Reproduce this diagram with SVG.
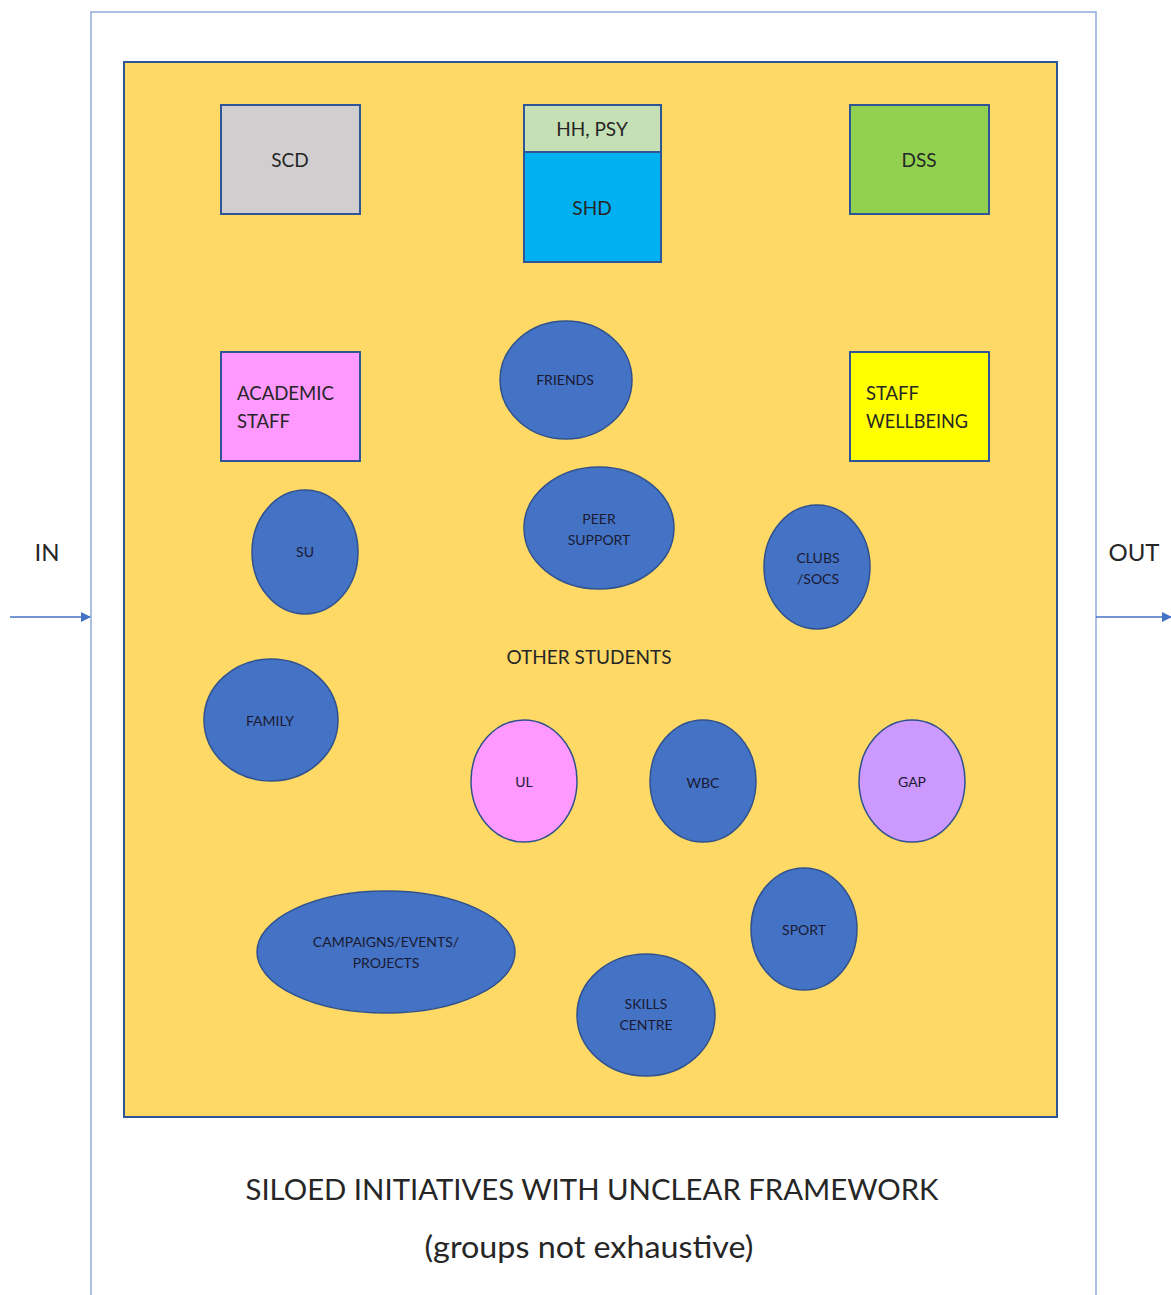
<svg xmlns="http://www.w3.org/2000/svg" width="1171" height="1295" viewBox="0 0 1171 1295">
<style>
text{font-family:Lato,"Open Sans","Liberation Sans",sans-serif;fill:#262626;text-anchor:middle}
.box{stroke:#2f5597;stroke-width:2}
.ell{fill:#4472c4;stroke:#2f528f;stroke-width:1.5}
.sm{font-size:14px;fill:#1a1a33}
.md{font-size:19px}
.lt{text-anchor:start;font-size:20px}
.conn{stroke:#4472c4;stroke-width:1.5;fill:none}
</style>
<defs>
<marker id="ah" viewBox="0 0 10 10" refX="9" refY="5" markerWidth="10" markerHeight="10" markerUnits="userSpaceOnUse" orient="auto">
<path d="M0,0 L10,5 L0,10 z" fill="#4472c4"/>
</marker>
</defs>
<rect width="1171" height="1295" fill="#ffffff"/>
<g id="frame">
<rect x="91" y="12" width="1005" height="1300" fill="#ffffff" stroke="#8faadc" stroke-width="1.5"/>
<rect x="124" y="62" width="933" height="1055" fill="#ffd966" stroke="#2f5597" stroke-width="2"/>
</g>
<g id="scd"><rect class="box" x="221" y="105" width="139" height="109" fill="#d0cece"/><text class="md" x="290" y="167">SCD</text></g>
<g id="hhpsy"><rect class="box" x="524" y="105" width="137" height="47" fill="#c5e0b4"/><text class="md" x="592" y="136">HH, PSY</text></g>
<g id="shd"><rect class="box" x="524" y="152" width="137" height="110" fill="#00b0f0"/><text class="md" x="592" y="215">SHD</text></g>
<g id="dss"><rect class="box" x="850" y="105" width="139" height="109" fill="#92d050"/><text class="md" x="919" y="167">DSS</text></g>
<g id="academic"><rect class="box" x="221" y="352" width="139" height="109" fill="#ff99ff"/><text class="lt" x="237" y="400" textLength="97" lengthAdjust="spacingAndGlyphs">ACADEMIC</text><text class="lt" x="237" y="428" textLength="53" lengthAdjust="spacingAndGlyphs">STAFF</text></g>
<g id="staffwb"><rect class="box" x="850" y="352" width="139" height="109" fill="#ffff00"/><text class="lt" x="866" y="400" textLength="53" lengthAdjust="spacingAndGlyphs">STAFF</text><text class="lt" x="866" y="428" textLength="102" lengthAdjust="spacingAndGlyphs">WELLBEING</text></g>
<g id="friends"><ellipse class="ell" cx="566" cy="380" rx="66" ry="59"/><text class="sm" x="565" y="385">FRIENDS</text></g>
<g id="peer"><ellipse class="ell" cx="599" cy="528" rx="75" ry="61"/><text class="sm" x="599" y="524">PEER</text><text class="sm" x="599" y="545">SUPPORT</text></g>
<g id="su"><ellipse class="ell" cx="305" cy="552" rx="53" ry="62"/><text class="sm" x="305" y="557">SU</text></g>
<g id="clubs"><ellipse class="ell" cx="817" cy="567" rx="53" ry="62"/><text class="sm" x="818" y="563">CLUBS</text><text class="sm" x="818" y="584">/SOCS</text></g>
<g id="other"><text class="md" x="589" y="664">OTHER STUDENTS</text></g>
<g id="family"><ellipse class="ell" cx="271" cy="720" rx="67" ry="61"/><text class="sm" x="270" y="726">FAMILY</text></g>
<g id="ul"><ellipse cx="524" cy="781" rx="53" ry="61" fill="#ff99ff" stroke="#2f528f" stroke-width="1.5"/><text class="sm" x="524" y="787">UL</text></g>
<g id="wbc"><ellipse class="ell" cx="703" cy="781" rx="53" ry="61"/><text class="sm" x="703" y="788">WBC</text></g>
<g id="gap"><ellipse cx="912" cy="781" rx="53" ry="61" fill="#cc99ff" stroke="#2f528f" stroke-width="1.5"/><text class="sm" x="912" y="787">GAP</text></g>
<g id="sport"><ellipse class="ell" cx="804" cy="929" rx="53" ry="61"/><text class="sm" x="804" y="935">SPORT</text></g>
<g id="campaigns"><ellipse class="ell" cx="386" cy="952" rx="129" ry="61"/><text class="sm" x="386" y="947">CAMPAIGNS/EVENTS/</text><text class="sm" x="386" y="968">PROJECTS</text></g>
<g id="skills"><ellipse class="ell" cx="646" cy="1015" rx="69" ry="61"/><text class="sm" x="646" y="1009">SKILLS</text><text class="sm" x="646" y="1030">CENTRE</text></g>
<g id="in"><text x="47" y="561" style="font-size:24px">IN</text></g>
<g id="out"><text x="1134" y="561" style="font-size:24px">OUT</text></g>
<g id="connectors">
<line class="conn" x1="10" y1="617" x2="90" y2="617" marker-end="url(#ah)"/>
<line class="conn" x1="1096" y1="617" x2="1171" y2="617" marker-end="url(#ah)"/>
</g>
<g id="caption">
<text x="592" y="1200" style="font-size:29px" textLength="693" lengthAdjust="spacingAndGlyphs">SILOED INITIATIVES WITH UNCLEAR FRAMEWORK</text>
<text x="589" y="1258" style="font-size:31px" textLength="329" lengthAdjust="spacingAndGlyphs">(groups not exhaustive)</text>
</g>
</svg>
